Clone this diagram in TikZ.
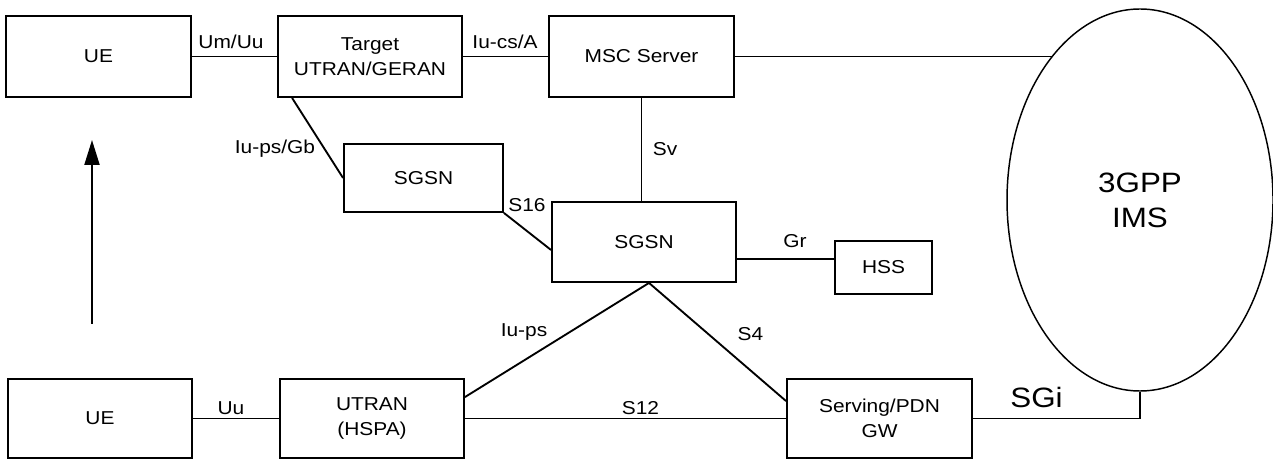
\documentclass[tikz,border=0pt]{standalone}
\usepackage{fontspec}
\setmainfont{Liberation Sans}[FakeStretch=1.12]
\usetikzlibrary{arrows.meta,shapes.geometric}

\begin{document}
\begin{tikzpicture}[x=0.75pt, y=-0.75pt,
		box/.style={draw, line width=1.4pt, align=center, inner sep=0pt, font=\fontsize{14}{18.75}\selectfont},
		lbl/.style={anchor=base, inner sep=0pt, font=\fontsize{14}{18.75}\selectfont},
		link/.style={line width=1.4pt}]
		%%%%% START %%%%%
		\useasboundingbox (0,0) rectangle (1273,459);
		
		% upper row
		\node[box, minimum width=138.75pt, minimum height=60.75pt] (ueTop) at (98.5,56.5) {UE};
		\node[box, minimum width=138pt, minimum height=60.75pt] (target) at (370,56.5) {Target\\UTRAN/GERAN};
		\node[box, minimum width=138.75pt, minimum height=60.75pt] (msc) at (641.5,56.5) {MSC Server};
		
		% core
		\node[box, minimum width=119.25pt, minimum height=51pt] (sgsnOld) at (423.5,178) {SGSN};
		\node[box, minimum width=138pt, minimum height=60pt] (sgsn) at (644,242) {SGSN};
		\node[box, minimum width=72.75pt, minimum height=39.75pt] (hss) at (883.5,267.5) {HSS};
		\node[draw, ellipse, line width=1.1pt, inner sep=0pt, align=center, minimum width=199.5pt, minimum height=286.5pt,
			font=\fontsize{21}{26.25}\selectfont] (ims) at (1140,200) {3GPP\\IMS};
		
		% lower row
		\node[box, minimum width=138pt, minimum height=59.25pt] (ueBot) at (100,418.5) {UE};
		\node[box, minimum width=138pt, minimum height=59.25pt] (utran) at (372,418.5) {UTRAN\\(HSPA)};
		\node[box, minimum width=138.75pt, minimum height=59.25pt] (gw) at (879.5,418.5) {Serving/PDN\\GW};
		
		% links
		\draw[link] (ueTop) -- (target);
		\draw[link] (target) -- (msc);
		\draw[link] (msc.east) -- (msc.east -| ims.121);
		\draw[link] ([xshift=11.25pt]target.south west) -- (sgsnOld.west);
		\draw[link] (sgsnOld.south east) -- ([yshift=-6pt]sgsn.west);
		\draw[link] (msc.south) -- (msc.south |- sgsn.north);
		\draw[link] ([yshift=-12.75pt]sgsn.east) coordinate (grEnd) -- (grEnd -| hss.west);
		\draw[link] ([yshift=-14.25pt]utran.north east) -- ([xshift=3.75pt]sgsn.south) -- ([yshift=-17.25pt]gw.north west);
		\draw[link] (ueBot) -- (utran);
		\draw[link] (utran) -- (gw);
		\draw[link] (gw.east) -- (gw.east -| ims.south) -- (ims.south);
		
		% handover arrow
		\coordinate (hoTail) at (92,324);
		\coordinate (hoHead) at (92,140);
		\draw[line width=1.6pt, -{Triangle[length=18.75pt, width=11.25pt]}] (hoTail) -- (hoHead);
		
		% interface names
		\node[lbl] (lUmUu) at (231,49) {Um/Uu};
		\node[lbl] (lIuCs) at (505,49) {Iu-cs/A};
		\node[lbl] (lIuPsGb) at (275,154) {Iu-ps/Gb};
		\node[lbl] (lSv) at (665,156) {Sv};
		\node[lbl] (lS16) at (527,212) {S16};
		\node[lbl] (lGr) at (795,248) {Gr};
		\node[lbl] (lIuPs) at (524,336) {Iu-ps};
		\node[lbl] (lS4) at (750.5,340) {S4};
		\node[lbl] (lS12) at (640.5,414) {S12};
		\node[lbl] (lUu) at (231,414) {Uu};
		\node[lbl, font=\fontsize{21}{26.25}\selectfont] (lSGi) at (1036.5,407) {SGi};
		
		%%%%% END %%%%%
	\end{tikzpicture}
\end{document}
